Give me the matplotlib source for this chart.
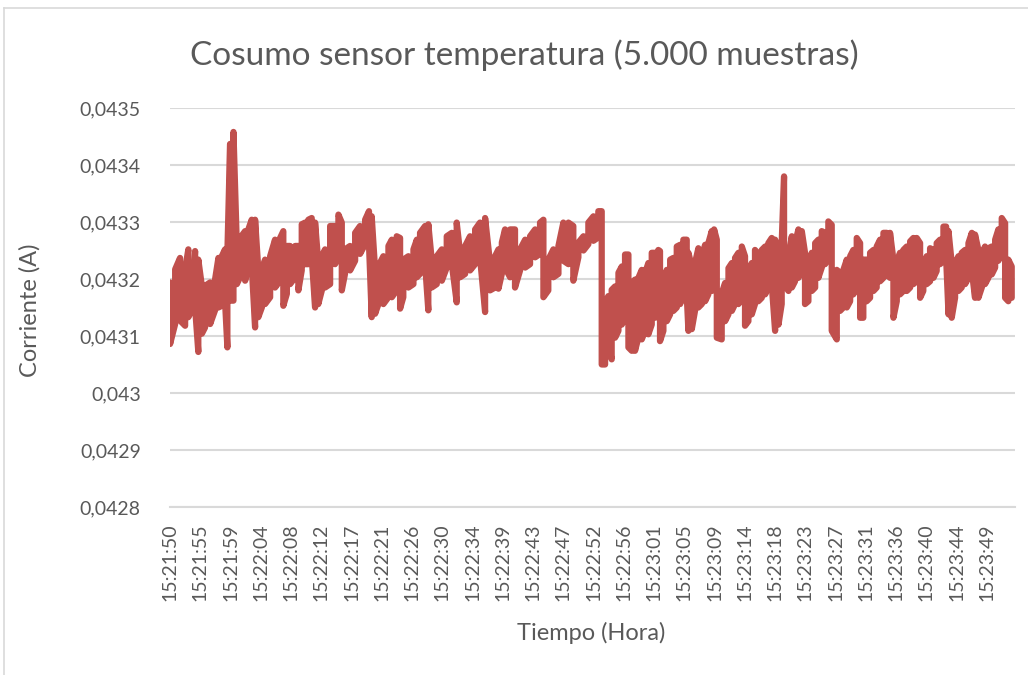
import numpy as np
import matplotlib
matplotlib.use("Agg")
import matplotlib.pyplot as plt
from matplotlib.lines import Line2D

# ---------------- data ----------------
# The 5.000 samples are summarised per screen column: sample index of the
# column and the highest / lowest current drawn in that column.
col_sample = [
    0, 30, 59, 89, 108, 138, 148, 167, 188, 207, 237, 266, 286, 306, 325, 339, 355, 375, 395, 414,
    444, 463, 483, 503, 522, 543, 562, 592, 621, 651, 670, 691, 710, 740, 759, 779, 799, 818, 838, 858,
    877, 898, 917, 947, 976, 996, 1016, 1035, 1065, 1095, 1124, 1154, 1177, 1193, 1213, 1233, 1262, 1292, 1312, 1341,
    1361, 1380, 1410, 1440, 1460, 1479, 1509, 1528, 1548, 1578, 1608, 1637, 1667, 1696, 1716, 1746, 1775, 1805, 1834, 1864,
    1893, 1923, 1943, 1963, 1982, 2012, 2041, 2071, 2101, 2130, 2160, 2189, 2209, 2238, 2268, 2298, 2327, 2357, 2386, 2416,
    2446, 2475, 2505, 2534, 2554,
    2574, 2593, 2613, 2633, 2653, 2673, 2692, 2712, 2732, 2751, 2771, 2791, 2811, 2830, 2850, 2870, 2889, 2899, 2919, 2939,
    2959, 2978, 2998, 3018, 3037, 3057, 3067, 3087, 3106, 3126, 3146, 3166, 3185, 3205, 3219, 3235, 3264, 3284, 3304, 3324,
    3343, 3363, 3383, 3402, 3422, 3442, 3461, 3481, 3501, 3521, 3540, 3560, 3580, 3600, 3619, 3633, 3659, 3679, 3698, 3718,
    3738, 3757, 3777, 3797, 3817, 3836, 3856, 3876, 3895, 3915, 3945, 3964, 3984, 4004, 4024, 4043, 4063, 4083, 4102, 4122,
    4142, 4162, 4181, 4201, 4221, 4241, 4260, 4280, 4300, 4319, 4339, 4359, 4379, 4398, 4418, 4438, 4457, 4477, 4497, 4517,
    4536, 4556, 4576, 4592, 4606, 4625, 4645, 4665, 4684, 4704, 4724, 4744, 4763, 4783, 4803, 4822, 4842, 4862, 4882, 4901,
    4921, 4941, 4960, 4980,
]
col_max = [
    0.043194, 0.043217, 0.043237, 0.043217, 0.043252, 0.043194, 0.043249, 0.043234, 0.043188, 0.043188,
    0.043194, 0.043199, 0.043237, 0.043240, 0.043252, 0.043245, 0.043437, 0.043458, 0.043258, 0.043272,
    0.043284, 0.043287, 0.043304, 0.043304, 0.043217, 0.043217, 0.043234, 0.043240, 0.043269, 0.043272,
    0.043284, 0.043258, 0.043258, 0.043258, 0.043258, 0.043296, 0.043299, 0.043304, 0.043307, 0.043299,
    0.043229, 0.043240, 0.043252, 0.043293, 0.043293, 0.043313, 0.043299, 0.043252, 0.043258, 0.043281,
    0.043293, 0.043304, 0.043319, 0.043310, 0.043217, 0.043223, 0.043240, 0.043258, 0.043269, 0.043275,
    0.043272, 0.043234, 0.043240, 0.043252, 0.043269, 0.043281, 0.043293, 0.043296, 0.043234, 0.043240,
    0.043252, 0.043275, 0.043281, 0.043299, 0.043246, 0.043258, 0.043275, 0.043287, 0.043299, 0.043307,
    0.043229, 0.043240, 0.043252, 0.043264, 0.043287, 0.043287, 0.043287, 0.043252, 0.043269, 0.043275,
    0.043287, 0.043299, 0.043304, 0.043234, 0.043252, 0.043258, 0.043299, 0.043299, 0.043293, 0.043264,
    0.043275, 0.043299, 0.043310, 0.043319, 0.043319,
    0.043158, 0.043170, 0.043181, 0.043187, 0.043211, 0.043222, 0.043243, 0.043243, 0.043193, 0.043199,
    0.043202, 0.043216, 0.043211, 0.043228, 0.043246, 0.043246, 0.043251, 0.043249, 0.043199, 0.043216,
    0.043234, 0.043237, 0.043257, 0.043260, 0.043269, 0.043269, 0.043246, 0.043222, 0.043228, 0.043254,
    0.043240, 0.043260, 0.043263, 0.043284, 0.043287, 0.043269, 0.043175, 0.043193, 0.043219, 0.043228,
    0.043237, 0.043246, 0.043257, 0.043240, 0.043216, 0.043228, 0.043251, 0.043243, 0.043251, 0.043257,
    0.043263, 0.043272, 0.043269, 0.043251, 0.043263, 0.043380, 0.043240, 0.043275, 0.043263, 0.043287,
    0.043284, 0.043246, 0.043228, 0.043246, 0.043263, 0.043269, 0.043284, 0.043281, 0.043301, 0.043295,
    0.043216, 0.043211, 0.043216, 0.043234, 0.043240, 0.043251, 0.043272, 0.043263, 0.043234, 0.043234,
    0.043246, 0.043251, 0.043257, 0.043269, 0.043281, 0.043281, 0.043281, 0.043234, 0.043228, 0.043246,
    0.043251, 0.043257, 0.043266, 0.043272, 0.043272, 0.043263, 0.043222, 0.043240, 0.043254, 0.043251,
    0.043263, 0.043269, 0.043292, 0.043292, 0.043284, 0.043228, 0.043228, 0.043240, 0.043246, 0.043251,
    0.043263, 0.043281, 0.043278, 0.043251, 0.043243, 0.043257, 0.043254, 0.043257, 0.043269, 0.043287,
    0.043307, 0.043298, 0.043234, 0.043222,
]
col_min = [
    0.043086, 0.043121, 0.043127, 0.043118, 0.043133, 0.043150, 0.043150, 0.043072, 0.043104, 0.043115,
    0.043121, 0.043145, 0.043150, 0.043153, 0.043162, 0.043080, 0.043162, 0.043162, 0.043191, 0.043203,
    0.043197, 0.043220, 0.043223, 0.043115, 0.043133, 0.043150, 0.043156, 0.043168, 0.043185, 0.043197,
    0.043153, 0.043174, 0.043191, 0.043203, 0.043180, 0.043215, 0.043226, 0.043226, 0.043238, 0.043150,
    0.043156, 0.043180, 0.043185, 0.043191, 0.043226, 0.043238, 0.043180, 0.043209, 0.043215, 0.043232,
    0.043244, 0.043261, 0.043261, 0.043133, 0.043139, 0.043156, 0.043156, 0.043168, 0.043168, 0.043180,
    0.043148, 0.043168, 0.043185, 0.043191, 0.043203, 0.043209, 0.043226, 0.043145, 0.043185, 0.043191,
    0.043197, 0.043220, 0.043226, 0.043159, 0.043203, 0.043209, 0.043215, 0.043226, 0.043238, 0.043142,
    0.043180, 0.043185, 0.043183, 0.043209, 0.043220, 0.043203, 0.043185, 0.043215, 0.043220, 0.043226,
    0.043238, 0.043244, 0.043168, 0.043180, 0.043203, 0.043209, 0.043232, 0.043226, 0.043197, 0.043238,
    0.043250, 0.043261, 0.043267, 0.043273, 0.043050,
    0.043050, 0.043085, 0.043059, 0.043097, 0.043109, 0.043120, 0.043132, 0.043080, 0.043074, 0.043074,
    0.043097, 0.043094, 0.043109, 0.043103, 0.043120, 0.043132, 0.043138, 0.043091, 0.043109, 0.043126,
    0.043138, 0.043144, 0.043150, 0.043156, 0.043173, 0.043173, 0.043109, 0.043112, 0.043144, 0.043150,
    0.043156, 0.043161, 0.043173, 0.043179, 0.043191, 0.043097, 0.043094, 0.043126, 0.043138, 0.043144,
    0.043156, 0.043156, 0.043164, 0.043118, 0.043126, 0.043138, 0.043156, 0.043161, 0.043167, 0.043173,
    0.043185, 0.043191, 0.043109, 0.043120, 0.043156, 0.043191, 0.043179, 0.043185, 0.043196, 0.043202,
    0.043214, 0.043156, 0.043161, 0.043179, 0.043185, 0.043202, 0.043220, 0.043226, 0.043237, 0.043109,
    0.043094, 0.043144, 0.043150, 0.043150, 0.043161, 0.043173, 0.043185, 0.043132, 0.043132, 0.043161,
    0.043167, 0.043179, 0.043185, 0.043196, 0.043202, 0.043208, 0.043202, 0.043132, 0.043161, 0.043173,
    0.043179, 0.043179, 0.043185, 0.043191, 0.043196, 0.043167, 0.043179, 0.043191, 0.043196, 0.043202,
    0.043214, 0.043226, 0.043232, 0.043237, 0.043138, 0.043132, 0.043167, 0.043179, 0.043185, 0.043191,
    0.043202, 0.043214, 0.043167, 0.043167, 0.043185, 0.043191, 0.043202, 0.043208, 0.043220, 0.043232,
    0.043243, 0.043167, 0.043161, 0.043167,
]
n_samples = 5000
tick_labels = [
    "15:21:50", "15:21:55", "15:21:59", "15:22:04", "15:22:08", "15:22:12", "15:22:17",
    "15:22:21", "15:22:26", "15:22:30", "15:22:34", "15:22:39", "15:22:43", "15:22:47",
    "15:22:52", "15:22:56", "15:23:01", "15:23:05", "15:23:09", "15:23:14", "15:23:18",
    "15:23:23", "15:23:27", "15:23:31", "15:23:36", "15:23:40", "15:23:44", "15:23:49",
]
label_interval = 179
y_ticks = [0.0428, 0.0429, 0.0430, 0.0431, 0.0432, 0.0433, 0.0434, 0.0435]
y_tick_labels = ["0,0428", "0,0429", "0,043", "0,0431", "0,0432", "0,0433", "0,0434", "0,0435"]

title = "Cosumo sensor temperatura (5.000 muestras)"
xlabel = "Tiempo (Hora)"
ylabel = "Corriente (A)"

# zig-zag through each column's max/min so the dense series fills its band
xs, ys = [], []
for i, (s, hi, lo) in enumerate(zip(col_sample, col_max, col_min)):
    pair = (hi, lo) if i % 2 == 0 else (lo, hi)
    xs += [s, s]
    ys += list(pair)

# ---------------- styling ----------------
plt.rcParams['font.family'] = ['Lato', 'DejaVu Sans']
txt = "#595959"
grid_c = "#d9d9d9"
line_c = "#C0504D"

W, H = 1028, 675
fig = plt.figure(figsize=(W / 100, H / 100), dpi=100)
fig.patch.set_facecolor("white")

# chart-area border (Excel style)
fig.add_artist(Line2D([4 / W, 4 / W], [0, 1 - 8 / H], transform=fig.transFigure, color="#d9d9d9", lw=1.2))
fig.add_artist(Line2D([4 / W, 1], [1 - 8 / H, 1 - 8 / H], transform=fig.transFigure, color="#d9d9d9", lw=1.2))

left, right = 170 / W, 1015 / W
top_px, bot_px = 108, 507
ax = fig.add_axes([left, 1 - bot_px / H, right - left, (bot_px - top_px) / H])

ax.plot(xs, ys, color=line_c, lw=4.5, solid_joinstyle="round", solid_capstyle="round", zorder=3)

ax.set_xlim(-0.5, n_samples - 0.5)
ax.set_ylim(0.0428, 0.0435)
ax.set_yticks(y_ticks)
ax.set_yticklabels(y_tick_labels)
ax.set_xticks(np.arange(len(tick_labels)) * label_interval)
ax.set_xticklabels(tick_labels, rotation=90)

ax.grid(axis="y", color=grid_c, lw=1.5, zorder=0)
for s in ["left", "right", "top"]:
    ax.spines[s].set_visible(False)
ax.spines["bottom"].set_color(grid_c)
ax.spines["bottom"].set_linewidth(1.5)
ax.tick_params(axis="both", length=0, colors=txt, labelsize=14)
ax.tick_params(axis="y", pad=21)
ax.tick_params(axis="x", pad=12)

fig.text(524 / W, 1 - 55 / H, title, ha="center", va="center", fontsize=24, color=txt)
fig.text(591 / W, 1 - 633 / H, xlabel, ha="center", va="center", fontsize=17, color=txt)
fig.text(30 / W, 1 - 310 / H, ylabel, ha="center", va="center", rotation=90, fontsize=17, color=txt)

fig.savefig("out.png", dpi=100, facecolor="white")
